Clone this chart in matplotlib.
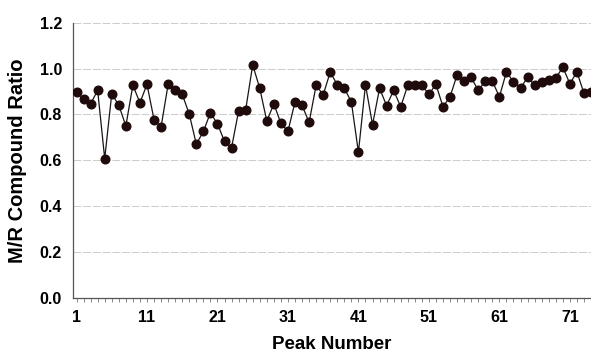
import numpy as np
import matplotlib
matplotlib.use("Agg")
import matplotlib.pyplot as plt
from matplotlib.ticker import MultipleLocator, FixedLocator

plt.rcParams['font.family'] = ['Liberation Sans', 'DejaVu Sans']

# M/R compound ratio for each peak
peak_number = np.arange(1, 75)
ratio = [
    0.896, 0.869, 0.846, 0.905, 0.607, 0.890, 0.840, 0.750, 0.927, 0.851,
    0.931, 0.777, 0.746, 0.931, 0.906, 0.888, 0.801, 0.670, 0.726, 0.807,
    0.759, 0.682, 0.655, 0.815, 0.820, 1.016, 0.914, 0.771, 0.846, 0.761,
    0.726, 0.854, 0.840, 0.765, 0.927, 0.885, 0.985, 0.929, 0.914, 0.854,
    0.635, 0.929, 0.755, 0.914, 0.838, 0.905, 0.833, 0.927, 0.927, 0.927,
    0.888, 0.931, 0.833, 0.877, 0.972, 0.946, 0.961, 0.905, 0.945, 0.945,
    0.877, 0.985, 0.942, 0.916, 0.961, 0.928, 0.942, 0.950, 0.958, 1.006,
    0.934, 0.985, 0.893, 0.896,
]
label_ticks = [1, 11, 21, 31, 41, 51, 61, 71]
y_ticks = [0.0, 0.2, 0.4, 0.6, 0.8, 1.0, 1.2]

fig = plt.figure(figsize=(5.91, 3.58), dpi=100)
ax = fig.add_axes([0.1235, 0.168, 0.8765, 0.7686])

ax.plot(peak_number, ratio, color='#1a1414', lw=0.9, marker='o',
        markersize=6.2, markerfacecolor='#1f0b0b', markeredgecolor='#1f0b0b',
        zorder=3)

ax.set_xlim(0.5, 74.0)
ax.set_ylim(0, 1.2)
ax.set_yticks(y_ticks)
ax.set_yticklabels([f"{v:.1f}" for v in y_ticks])
ax.xaxis.set_major_locator(FixedLocator(label_ticks))
ax.xaxis.set_minor_locator(MultipleLocator(1))
ax.tick_params(axis='x', which='both', length=3, width=0.6, color='#777777',
               labelsize=11.5, pad=6)
ax.tick_params(axis='y', length=0, labelsize=11.5, pad=8)
for lab in ax.get_xticklabels() + ax.get_yticklabels():
    lab.set_fontweight('bold')

ax.grid(axis='y', color='#cccccc', lw=0.7, ls=(0, (8, 2)))
ax.set_axisbelow(True)
for side in ['top', 'right']:
    ax.spines[side].set_visible(False)
for side in ['left', 'bottom']:
    ax.spines[side].set_color('#555555')
    ax.spines[side].set_linewidth(0.9)

ax.set_xlabel('Peak Number', fontsize=13.5, fontweight='bold', labelpad=8)
ax.set_ylabel('M/R Compound Ratio', fontsize=14.5, fontweight='bold', labelpad=9)

fig.savefig('out.png', dpi=100)
